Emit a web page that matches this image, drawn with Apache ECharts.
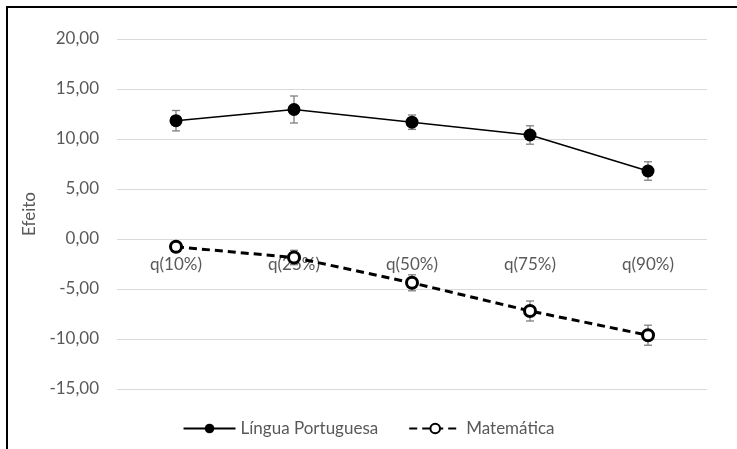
<!DOCTYPE html>
<html>
<head>
<meta charset="utf-8">
<script src="https://cdn.jsdelivr.net/npm/echarts@6/dist/echarts.min.js"></script>
<style>html,body{margin:0;padding:0;background:#fff;}#c{width:737px;height:449px;}</style>
</head>
<body>
<div id="c"></div>
<script>
const categories = ['q(10%)', 'q(25%)', 'q(50%)', 'q(75%)', 'q(90%)'];
const lpValues = [11.83, 12.95, 11.68, 10.40, 6.80];
const lpErr = [1.02, 1.35, 0.72, 0.92, 0.92];
const matValues = [-0.78, -1.85, -4.38, -7.20, -9.62];
const matErr = [0.3, 0.72, 0.8, 1.0, 1.0];
const yTicks = [-15, -10, -5, 0, 5, 10, 15, 20];

const FONT = 'Lato';
const FS = 17;
const chart = echarts.init(document.getElementById('c'));

function errSeries(vals, errs) {
  return {
    type: 'custom',
    silent: true,
    z: 1,
    data: vals.map((v, i) => [i, v - errs[i], v + errs[i]]),
    renderItem: function (params, api) {
      const lo = api.coord([api.value(0), api.value(1)]);
      const hi = api.coord([api.value(0), api.value(2)]);
      const x = lo[0], w = 4;
      const st = { stroke: '#7f7f7f', lineWidth: 1.3 };
      return {
        type: 'group',
        children: [
          { type: 'line', shape: { x1: x, y1: lo[1], x2: x, y2: hi[1] }, style: st },
          { type: 'line', shape: { x1: x - w, y1: lo[1], x2: x + w, y2: lo[1] }, style: st },
          { type: 'line', shape: { x1: x - w, y1: hi[1], x2: x + w, y2: hi[1] }, style: st }
        ]
      };
    }
  };
}

chart.setOption({
  animation: false,
  backgroundColor: '#ffffff',
  textStyle: { fontFamily: FONT },
  graphic: [
    { type: 'line', shape: { x1: 6, y1: 7, x2: 737, y2: 7 }, style: { stroke: '#000', lineWidth: 2 } },
    { type: 'line', shape: { x1: 7, y1: 6, x2: 7, y2: 449 }, style: { stroke: '#000', lineWidth: 2 } }
  ],
  grid: { left: 117, right: 30, top: 39, bottom: 60, containLabel: false },
  legend: {
    bottom: 7,
    left: 'center',
    itemWidth: 52,
    itemHeight: 12,
    itemGap: 30,
    textStyle: { fontFamily: FONT, fontSize: FS, color: '#595959' },
    data: ['Língua Portuguesa', 'Matemática']
  },
  xAxis: [{
    type: 'category',
    data: categories,
    boundaryGap: true,
    position: 'bottom',
    offset: -150,
    axisLine: { show: false },
    axisTick: { show: false },
    axisLabel: { fontFamily: FONT, fontSize: FS, color: '#595959', margin: 17 },
    splitLine: { show: false },
    z: 0
  }],
  yAxis: {
    type: 'value',
    min: -15,
    max: 20,
    interval: 5,
    name: 'Efeito',
    nameLocation: 'middle',
    nameGap: 66,
    nameRotate: 90,
    nameTextStyle: { fontFamily: FONT, fontSize: FS, color: '#595959' },
    axisLine: { show: false },
    axisTick: { show: false },
    axisLabel: {
      fontFamily: FONT, fontSize: FS, color: '#595959', margin: 18,
      formatter: v => yTicks.includes(v) ? v.toFixed(2).replace('.', ',') : ''
    },
    splitLine: { lineStyle: { color: '#d9d9d9', width: 1 } }
  },
  series: [
    errSeries(lpValues, lpErr),
    errSeries(matValues, matErr),
    {
      name: 'Língua Portuguesa',
      type: 'line',
      data: lpValues,
      z: 3,
      symbol: 'circle',
      symbolSize: 13,
      itemStyle: { color: '#000000' },
      lineStyle: { color: '#000000', width: 1.5 }
    },
    {
      name: 'Matemática',
      type: 'line',
      data: matValues,
      z: 3,
      symbol: 'circle',
      symbolSize: 11,
      itemStyle: { color: '#ffffff', borderColor: '#000000', borderWidth: 3 },
      lineStyle: { color: '#000000', width: 3, type: [8, 5] }
    }
  ]
});
</script>
</body>
</html>
